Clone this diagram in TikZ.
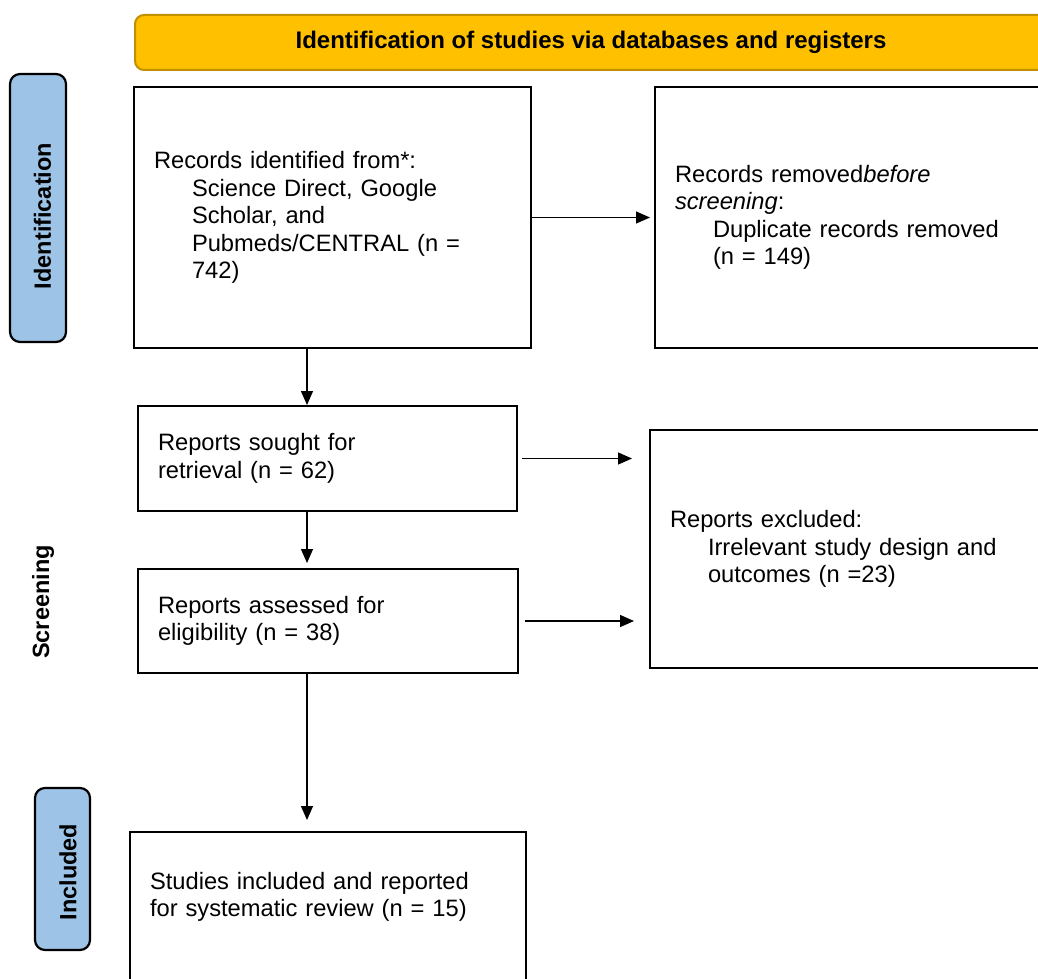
\documentclass[tikz,border=0pt]{standalone}
\usepackage{fontspec}
\setmainfont{Liberation Sans}
\usepackage{xcolor}
\usepackage{tikz}
\usetikzlibrary{arrows.meta}
\definecolor{amber400}{HTML}{FFC000}
\definecolor{amber700}{HTML}{BF9000}
\definecolor{sky300}{HTML}{9DC3E6}
\tikzset{
  every node/.style={font=\fontsize{23.7}{27.5}\selectfont},
  banner/.style={
    rectangle, rounded corners=9pt,
    draw=amber700, fill=amber400, line width=2pt,
    minimum height=55pt,
    font=\fontsize{24}{27.5}\selectfont\bfseries
  },
  phase/.style={
    rectangle, rounded corners=10pt,
    draw=black, fill=sky300, line width=2.2pt,
    minimum width=56pt
  },
  phaselabel/.style={
    rotate=90, inner sep=0pt,
    font=\fontsize{23.5}{27.5}\selectfont\bfseries
  },
  record/.style={
    rectangle, draw=black, line width=2pt,
    anchor=north west, align=left,
    inner xsep=20pt
  },
  flow/.style={
    -{Triangle[length=14pt,width=12pt]},
    line width=1.3pt, draw=black
  },
}
\begin{document}
\begin{tikzpicture}[x=1pt, y=-1pt]
  \useasboundingbox (0,0) rectangle (1038,979);
  \clip (0,0) rectangle (1038,979);
  \fill[white] (0,0) rectangle (1038,979);
  \node[banner, minimum width=912pt] (head) at (591,42.5) {Identification of studies via databases and registers};
  \node[phase, minimum height=268pt] (idbox) at (38,208) {};
  \node[phaselabel] (idlabel) at (42.5,216) {Identification};
  \node[phaselabel] (screenlabel) at (43,602) {Screening};
  \node[phase, minimum width=55pt, minimum height=162pt] (inclbox) at (62.5,869) {};
  \node[phaselabel] (incllabel) at (68,872) {Included};
  \node[record, minimum width=397pt, minimum height=261pt, text width=357pt] (found) at (133,86) {Records identified from*:\\\hspace*{38pt}Science Direct, Google\\\hspace*{38pt}Scholar, and\\\hspace*{38pt}Pubmeds/CENTRAL (n =\\\hspace*{38pt}742)};
  \node[record, minimum width=406pt, minimum height=261pt, text width=366pt] (removed) at (654,86) {Records removed\textit{before}\\\textit{screening}:\\\hspace*{38pt}Duplicate records removed\\\hspace*{38pt}(n = 149)};
  \node[record, minimum width=379pt, minimum height=105pt, text width=339pt] (sought) at (137,405) {Reports sought for\\retrieval (n = 62)};
  \node[record, minimum width=411pt, minimum height=238pt, text width=371pt] (excluded) at (649,429) {Reports excluded:\\\hspace*{38pt}Irrelevant study design and\\\hspace*{38pt}outcomes (n =23)};
  \node[record, minimum width=380pt, minimum height=104pt, text width=340pt] (assessed) at (137,568) {Reports assessed for\\eligibility (n = 38)};
  \node[record, minimum width=396pt, inner ysep=0pt, text height=57pt, text depth=120pt, text width=356pt] (included) at (129,831) {Studies included and reported\\for systematic review (n = 15)};
  \coordinate (spine) at (307,0);
  \draw[flow] (found.south -| spine) -- (sought.north -| spine);
  \draw[flow, shorten >=4pt] (found.east) -- (removed.west);
  \draw[flow, shorten <=4pt, shorten >=17pt] (sought.east) -- (sought.east -| excluded.west);
  \draw[flow, shorten >=5pt] (sought.south -| spine) -- (assessed.north -| spine);
  \draw[flow, shorten <=6pt, shorten >=15pt] (assessed.east) -- (assessed.east -| excluded.west);
  \draw[flow, shorten >=11pt] (assessed.south -| spine) -- (included.north -| spine);
\end{tikzpicture}
\end{document}
